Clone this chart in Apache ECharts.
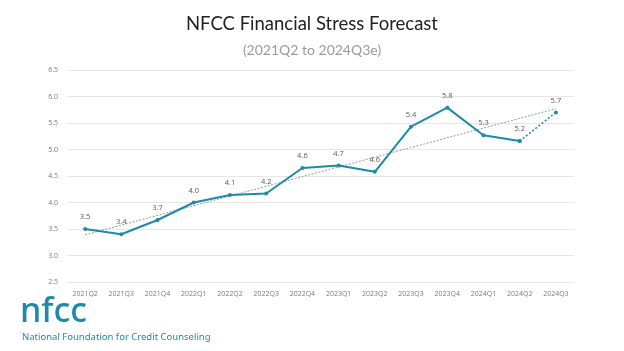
<!DOCTYPE html>
<html><head><meta charset="utf-8">
<script src="https://cdn.jsdelivr.net/npm/echarts@6/dist/echarts.min.js"></script>
<style>html,body{margin:0;padding:0;background:#fff}#c{width:624px;height:351px}</style>
</head><body><div id="c"></div>
<script>
const categories = ['2021Q2','2021Q3','2021Q4','2022Q1','2022Q2','2022Q3','2022Q4','2023Q1','2023Q2','2023Q3','2023Q4','2024Q1','2024Q2','2024Q3'];
const values = [3.5, 3.4, 3.67, 4.0, 4.14, 4.17, 4.65, 4.7, 4.58, 5.43, 5.79, 5.27, 5.16, 5.7];
const labels = ['3.5','3.4','3.7','4.0','4.1','4.2','4.6','4.7','4.6','5.4','5.8','5.3','5.2','5.7'];
const trendStart = 3.39;
const trendEnd = 5.77;
const yTicks = ['2.5','3.0','3.5','4.0','4.5','5.0','5.5','6.0','6.5'];

const n = categories.length;
const solidData = values.map((v, i) => i <= n - 2 ? v : null);
const dottedData = values.map((v, i) => i >= n - 2 ? v : null);
const trendData = categories.map((c, i) => i === 0 ? trendStart : (i === n - 1 ? trendEnd : null));
const teal = '#1f8aa6';

const chart = echarts.init(document.getElementById('c'));
chart.setOption({
  animation: false,
  backgroundColor: '#fff',
  title: {
    text: 'NFCC Financial Stress Forecast',
    subtext: '(2021Q2 to 2024Q3e)',
    left: 'center', top: 10, itemGap: 9,
    textStyle: { fontFamily: 'Lato', fontWeight: 'normal', fontSize: 18.5, color: '#222' },
    subtextStyle: { fontFamily: 'Lato', fontSize: 14, color: '#9a9a9a' }
  },
  grid: { left: 67, right: 50, top: 70, bottom: 69 },
  xAxis: {
    type: 'category', data: categories, boundaryGap: true,
    axisLine: { show: true, lineStyle: { color: '#e6e6e6' } },
    axisTick: { show: false },
    axisLabel: { color: '#7a7a7a', fontSize: 7, fontFamily: 'Open Sans', margin: 8 }
  },
  yAxis: {
    type: 'value', min: 2.5, max: 6.5, interval: 0.5,
    axisLine: { show: false }, axisTick: { show: false },
    axisLabel: { color: '#7a7a7a', fontSize: 7, fontFamily: 'Open Sans', margin: 9,
      formatter: v => yTicks[Math.round((v - 2.5) / 0.5)] },
    splitLine: { lineStyle: { color: '#e6e6e6' } }
  },
  series: [
    {
      type: 'line', data: trendData, connectNulls: true, symbol: 'none', z: 1,
      lineStyle: { color: '#9a9a9a', width: 1, type: [2, 1.5] }
    },
    {
      type: 'line', data: solidData, symbol: 'circle', symbolSize: 4, z: 3,
      lineStyle: { color: teal, width: 2 }, itemStyle: { color: teal },
      label: { show: true, position: 'top', distance: 6, color: '#595959', fontSize: 7.5, fontFamily: 'Open Sans',
        formatter: p => labels[p.dataIndex] }
    },
    {
      type: 'line', data: dottedData, symbol: 'circle', symbolSize: 4, z: 2,
      lineStyle: { color: teal, width: 1.5, type: [2, 2] }, itemStyle: { color: teal },
      label: { show: true, position: 'top', distance: 6, color: '#595959', fontSize: 7.5, fontFamily: 'Open Sans',
        formatter: p => p.dataIndex === n - 1 ? labels[p.dataIndex] : '' }
    }
  ],
  graphic: [
    { type: 'text', left: 20, top: 295, style: { text: 'nfcc', fill: teal, font: '500 34px "Noto Sans"' } },
    { type: 'text', left: 22, top: 332, style: { text: 'National Foundation for Credit Counseling', fill: teal, font: '9.5px "Noto Sans"' } }
  ]
});
</script></body></html>
